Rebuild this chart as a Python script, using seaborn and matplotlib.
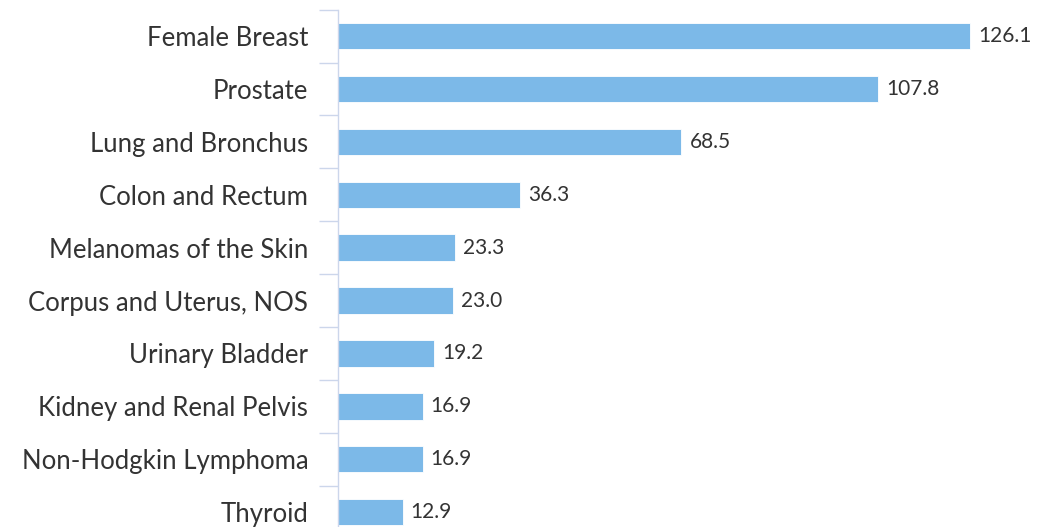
import matplotlib
matplotlib.use("Agg")
import matplotlib.pyplot as plt
import seaborn as sns
import pandas as pd
import numpy as np

categories = ["Female Breast", "Prostate", "Lung and Bronchus", "Colon and Rectum",
              "Melanomas of the Skin", "Corpus and Uterus, NOS", "Urinary Bladder",
              "Kidney and Renal Pelvis", "Non-Hodgkin Lymphoma", "Thyroid"]
values = [126.1, 107.8, 68.5, 36.3, 23.3, 23.0, 19.2, 16.9, 16.9, 12.9]

df = pd.DataFrame({"site": categories, "rate": values})

sns.set_theme(style="white")
plt.rcParams['font.family'] = ['Lato', 'DejaVu Sans']

W, H = 1038, 527
fig = plt.figure(figsize=(W / 100, H / 100), dpi=100)
left_px, top_px = 338, 9.6
row_px = 52.9
n = len(categories)
ax_h = n * row_px
bottom_px = H - top_px - ax_h  # may be negative: chart is clipped at bottom
ax = fig.add_axes([left_px / W, bottom_px / H, (W - left_px) / W, ax_h / H])

sns.barplot(data=df, y="site", x="rate", orient="h", color="#7cb9e8",
            saturation=1, width=0.5, edgecolor="white", linewidth=0.6, ax=ax)

xmax = (W - left_px) / 5.012
ax.set_xlim(0, xmax)
ax.set_ylim(n - 0.5, -0.5)

for i, v in enumerate(values):
    ax.annotate(f"{v:.1f}", xy=(v, i), xytext=(5.8, 0), textcoords="offset points",
                ha="left", va="center", fontsize=15, color="#333333")

ax.set_xlabel("")
ax.set_ylabel("")
ax.set_xticks([])
ax.set_yticks(np.arange(n))
ax.set_yticklabels(categories, fontsize=18.5, color="#333333")
ax.set_yticks(np.arange(n + 1) - 0.5, minor=True)
ax.tick_params(axis="y", which="major", length=0, pad=21.5)
ax.tick_params(axis="y", which="minor", length=13.7, width=1, color="#ccd6eb", left=True)
for s in ["top", "right", "bottom"]:
    ax.spines[s].set_visible(False)
ax.spines["left"].set_color("#ccd6eb")
ax.spines["left"].set_linewidth(1)

fig.savefig("out.png", dpi=100)
